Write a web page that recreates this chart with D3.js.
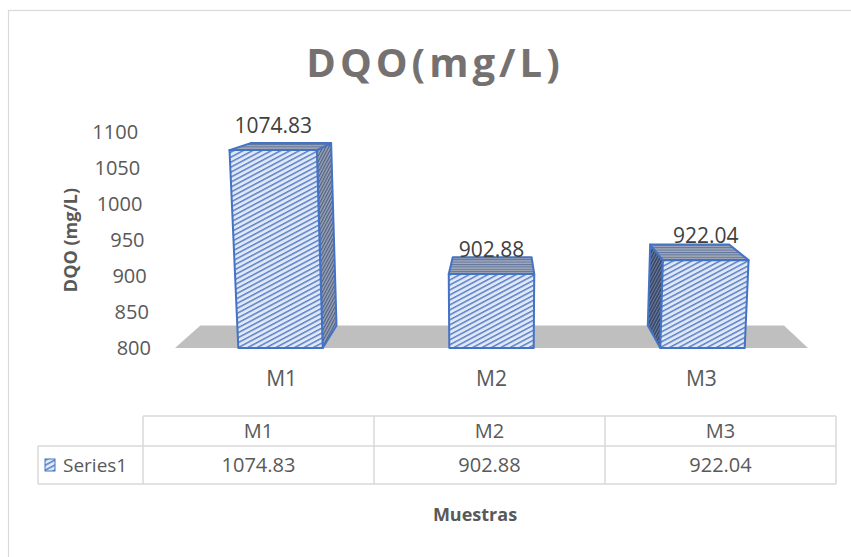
<!DOCTYPE html>
<html>
<head>
<meta charset="utf-8">
<script src="https://cdn.jsdelivr.net/npm/d3@7"></script>
<style>
  html, body { margin: 0; padding: 0; background: #ffffff; }
  svg { display: block; }
  text { font-family: "Open Sans", "DejaVu Sans", sans-serif; }
</style>
</head>
<body>
<svg id="chart" width="851" height="557"></svg>
<script>
// ---- data ----
const categories = ["M1", "M2", "M3"];
const values = [1074.83, 902.88, 922.04];
const valueLabels = ["1074.83", "902.88", "922.04"];
const yTicks = [800, 850, 900, 950, 1000, 1050, 1100];
const seriesName = "Series1";
const chartTitle = "DQO(mg/L)";
const yTitle = "DQO (mg/L)";
const xTitle = "Muestras";

// ---- layout ----
const W = 851, H = 557;
const svg = d3.select("#chart");
const textColor = "#595959";

// front plane scales
const x = d3.scaleBand().domain(categories).range([175, 808]).paddingInner(0.6).paddingOuter(0.3);
const y = d3.scaleLinear().domain([800, 1100]).range([348, 132]);

// simple perspective: verticals converge below the centre, depth recedes toward a vanishing point
const CX = 492, BASE_Y = y(800), K = 0.000175;
const VP = [500, 60], DEPTH = 0.078;
const front = (u, yy) => [CX + (u - CX) * (1 + K * (BASE_Y - yy)), yy];
const back = p => [p[0] + DEPTH * (VP[0] - p[0]), p[1] + DEPTH * (VP[1] - p[1])];
const poly = pts => pts.map(p => p.join(",")).join(" ");

// ---- patterns ----
const defs = svg.append("defs");
function stripePattern(id, bg, fg, gap, thick, angle) {
  const p = defs.append("pattern").attr("id", id)
    .attr("patternUnits", "userSpaceOnUse")
    .attr("width", 8).attr("height", gap)
    .attr("patternTransform", `rotate(${angle})`);
  p.append("rect").attr("width", 8).attr("height", gap).attr("fill", bg);
  p.append("rect").attr("y", 0).attr("width", 8).attr("height", thick).attr("fill", fg);
}
stripePattern("frontHatch", "#dfe8f7", "#5b7fc6", 4.4, 1.5, -28);
stripePattern("sideLightHatch", "#9aa2b2", "#4a5d85", 2.6, 1.1, -62);
stripePattern("sideDarkHatch", "#3c4a66", "#6a7fa8", 2.6, 0.9, -62);
stripePattern("topHatch", "#a3abb9", "#5f739c", 2.4, 1.0, 0);

// ---- chart area outline ----
svg.append("rect").attr("x", 8.5).attr("y", 10.5).attr("width", 900).attr("height", 600)
  .attr("fill", "none").attr("stroke", "#d9d9d9").attr("stroke-width", 1.2);

// ---- title ----
svg.append("text").attr("x", 435).attr("y", 77).attr("text-anchor", "middle")
  .attr("font-size", 40).attr("font-weight", 700).attr("letter-spacing", 4)
  .attr("fill", "#767171").text(chartTitle);

// ---- floor ----
const [r0, r1] = x.range();
const floorFront = [front(r0, BASE_Y), front(r1, BASE_Y)];
svg.append("polygon")
  .attr("points", poly([floorFront[0], floorFront[1], back(floorFront[1]), back(floorFront[0])]))
  .attr("fill", "#bfbfbf");

// ---- y axis tick labels ----
svg.append("g").selectAll("text").data(yTicks).join("text")
  .attr("x", d => front(151, y(d))[0])
  .attr("y", d => y(d))
  .attr("dy", "0.35em")
  .attr("text-anchor", "end")
  .attr("font-size", 20).attr("fill", textColor)
  .text(d => d);

svg.append("text")
  .attr("transform", "translate(77,240) rotate(-90)")
  .attr("text-anchor", "middle")
  .attr("font-size", 18).attr("font-weight", 700).attr("fill", textColor)
  .text(yTitle);

// ---- bars ----
const edge = "#4472c4";
const bars = svg.append("g");
categories.forEach((c, i) => {
  const u0 = x(c), u1 = x(c) + x.bandwidth();
  const yt = y(values[i]), yb = BASE_Y;
  const fTL = front(u0, yt), fTR = front(u1, yt), fBR = front(u1, yb), fBL = front(u0, yb);
  const bTL = back(fTL), bTR = back(fTR), bBR = back(fBR), bBL = back(fBL);
  const g = bars.append("g").attr("stroke", edge).attr("stroke-width", 2).attr("stroke-linejoin", "round");
  if (VP[0] > fTR[0]) {
    g.append("polygon").attr("points", poly([fTR, bTR, bBR, fBR])).attr("fill", "url(#sideLightHatch)");
  }
  if (VP[0] < fTL[0]) {
    g.append("polygon").attr("points", poly([fTL, bTL, bBL, fBL])).attr("fill", "url(#sideDarkHatch)");
  }
  g.append("polygon").attr("points", poly([fTL, fTR, bTR, bTL])).attr("fill", "url(#topHatch)");
  g.append("polygon").attr("points", poly([fTL, fTR, fBR, fBL])).attr("fill", "url(#frontHatch)");

  svg.append("text")
    .attr("x", (fTL[0] + fTR[0]) / 2).attr("y", yt - 17)
    .attr("text-anchor", "middle").attr("font-size", 21).attr("fill", "#404040")
    .text(valueLabels[i]);

  const lab = front(u0 + x.bandwidth() / 2, 378);
  svg.append("text").attr("x", lab[0]).attr("y", 386)
    .attr("text-anchor", "middle").attr("font-size", 21).attr("fill", textColor)
    .text(c);
});

// ---- data table ----
const colX = [143, 374, 605, 836];
const rowY = [416, 446, 484];
const tableLeft = 38;
const tg = svg.append("g").attr("stroke", "#d9d9d9").attr("stroke-width", 1.5);
tg.append("line").attr("x1", colX[0]).attr("x2", colX[3]).attr("y1", rowY[0]).attr("y2", rowY[0]);
tg.append("line").attr("x1", tableLeft).attr("x2", colX[3]).attr("y1", rowY[1]).attr("y2", rowY[1]);
tg.append("line").attr("x1", tableLeft).attr("x2", colX[3]).attr("y1", rowY[2]).attr("y2", rowY[2]);
tg.append("line").attr("x1", tableLeft).attr("x2", tableLeft).attr("y1", rowY[1]).attr("y2", rowY[2]);
colX.forEach(cx => tg.append("line").attr("x1", cx).attr("x2", cx).attr("y1", rowY[0]).attr("y2", rowY[2]));

categories.forEach((c, i) => {
  const mid = (colX[i] + colX[i + 1]) / 2;
  svg.append("text").attr("x", mid).attr("y", 431).attr("dy", "0.35em")
    .attr("text-anchor", "middle").attr("font-size", 20).attr("fill", textColor).text(c);
  svg.append("text").attr("x", mid).attr("y", 465).attr("dy", "0.35em")
    .attr("text-anchor", "middle").attr("font-size", 20).attr("fill", textColor).text(valueLabels[i]);
});

// legend key inside the table
svg.append("rect").attr("x", 45).attr("y", 459).attr("width", 10).attr("height", 12)
  .attr("fill", "url(#frontHatch)").attr("stroke", edge).attr("stroke-width", 1);
svg.append("text").attr("x", 63).attr("y", 465).attr("dy", "0.35em")
  .attr("font-size", 19).attr("fill", textColor).text(seriesName);

// ---- x axis title ----
svg.append("text").attr("x", 475).attr("y", 515).attr("dy", "0.35em")
  .attr("text-anchor", "middle").attr("font-size", 18).attr("font-weight", 700)
  .attr("fill", textColor).text(xTitle);
</script>
</body>
</html>
